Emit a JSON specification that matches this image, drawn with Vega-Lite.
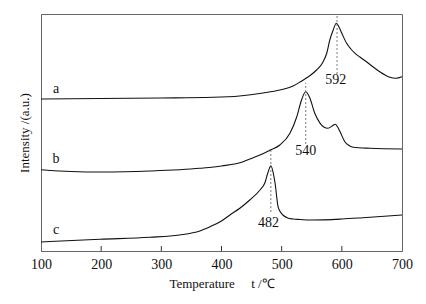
{
  "$schema": "https://vega.github.io/schema/vega-lite/v6.json",
  "autosize": "none",
  "width": 361,
  "height": 237,
  "padding": {"left": 41, "top": 14, "right": 24, "bottom": 53},
  "background": "white",
  "config": {
    "view": {"stroke": "#666", "strokeWidth": 1},
    "font": "Liberation Serif",
    "axis": {"grid": false, "labelFont": "Liberation Serif", "titleFont": "Liberation Serif", "titleFontWeight": "normal", "labelColor": "#111", "titleColor": "#111", "domainColor": "#666"}
  },
  "datasets": {
    "curves": [
      {"s": "a", "t": 100, "v": 152}, {"s": "a", "t": 200, "v": 152.5}, {"s": "a", "t": 300, "v": 153}, {"s": "a", "t": 386, "v": 153.7}, {"s": "a", "t": 430, "v": 155}, {"s": "a", "t": 469, "v": 158}, {"s": "a", "t": 497, "v": 161}, {"s": "a", "t": 519, "v": 165}, {"s": "a", "t": 532, "v": 169.5}, {"s": "a", "t": 545, "v": 174.5}, {"s": "a", "t": 558, "v": 181}, {"s": "a", "t": 569, "v": 189.3}, {"s": "a", "t": 575, "v": 198}, {"s": "a", "t": 580, "v": 211}, {"s": "a", "t": 585, "v": 220}, {"s": "a", "t": 591, "v": 227.7}, {"s": "a", "t": 596, "v": 223}, {"s": "a", "t": 600, "v": 217.7}, {"s": "a", "t": 608, "v": 207.7}, {"s": "a", "t": 615, "v": 202}, {"s": "a", "t": 622, "v": 197.7}, {"s": "a", "t": 630, "v": 194}, {"s": "a", "t": 641, "v": 189.3}, {"s": "a", "t": 650, "v": 185}, {"s": "a", "t": 663, "v": 179.3}, {"s": "a", "t": 672, "v": 176}, {"s": "a", "t": 680, "v": 173.7}, {"s": "a", "t": 690, "v": 172.8}, {"s": "a", "t": 700, "v": 174.3},
      {"s": "b", "t": 100, "v": 81.3}, {"s": "b", "t": 150, "v": 79.5}, {"s": "b", "t": 200, "v": 79}, {"s": "b", "t": 281, "v": 80}, {"s": "b", "t": 364, "v": 82.7}, {"s": "b", "t": 400, "v": 85}, {"s": "b", "t": 436, "v": 89.3}, {"s": "b", "t": 447, "v": 92}, {"s": "b", "t": 464, "v": 96}, {"s": "b", "t": 481, "v": 101}, {"s": "b", "t": 497, "v": 106}, {"s": "b", "t": 514, "v": 118}, {"s": "b", "t": 525, "v": 134}, {"s": "b", "t": 533, "v": 151}, {"s": "b", "t": 540, "v": 159.3}, {"s": "b", "t": 547, "v": 152.7}, {"s": "b", "t": 555, "v": 137.7}, {"s": "b", "t": 564, "v": 127.7}, {"s": "b", "t": 570, "v": 124}, {"s": "b", "t": 577, "v": 122.7}, {"s": "b", "t": 584, "v": 125}, {"s": "b", "t": 589, "v": 126.7}, {"s": "b", "t": 593, "v": 124}, {"s": "b", "t": 597, "v": 119.3}, {"s": "b", "t": 605, "v": 109.3}, {"s": "b", "t": 612, "v": 105.5}, {"s": "b", "t": 619, "v": 103.7}, {"s": "b", "t": 647, "v": 102.7}, {"s": "b", "t": 700, "v": 102},
      {"s": "c", "t": 100, "v": 9}, {"s": "c", "t": 198, "v": 11.7}, {"s": "c", "t": 281, "v": 13.7}, {"s": "c", "t": 330, "v": 16}, {"s": "c", "t": 364, "v": 20}, {"s": "c", "t": 381, "v": 24.3}, {"s": "c", "t": 400, "v": 30}, {"s": "c", "t": 414, "v": 36}, {"s": "c", "t": 431, "v": 43}, {"s": "c", "t": 447, "v": 51}, {"s": "c", "t": 464, "v": 61}, {"s": "c", "t": 472, "v": 68}, {"s": "c", "t": 477, "v": 78}, {"s": "c", "t": 482, "v": 85.3}, {"s": "c", "t": 486, "v": 78}, {"s": "c", "t": 489, "v": 68}, {"s": "c", "t": 494, "v": 44.3}, {"s": "c", "t": 498, "v": 39}, {"s": "c", "t": 502, "v": 36}, {"s": "c", "t": 510, "v": 33}, {"s": "c", "t": 519, "v": 32}, {"s": "c", "t": 530, "v": 31.5}, {"s": "c", "t": 552, "v": 31}, {"s": "c", "t": 600, "v": 32}, {"s": "c", "t": 635, "v": 33.3}, {"s": "c", "t": 700, "v": 36}
    ],
    "peaks": [
      {"t": 592, "y1": 177, "y2": 237, "label": "592", "lt": 590, "ly": 171},
      {"t": 540, "y1": 107, "y2": 168, "label": "540", "lt": 540, "ly": 100.5},
      {"t": 482, "y1": 39, "y2": 101, "label": "482", "lt": 478, "ly": 28.3}
    ],
    "names": [
      {"label": "a", "t": 125, "y": 162},
      {"label": "b", "t": 125, "y": 92},
      {"label": "c", "t": 125, "y": 21}
    ],
    "ticks": [{"t": 200}, {"t": 300}, {"t": 400}, {"t": 500}, {"t": 600}]
  },
  "layer": [
    {
      "data": {"name": "curves"},
      "mark": {"type": "line", "interpolate": "monotone", "color": "#111", "strokeWidth": 1.1},
      "encoding": {
        "x": {"field": "t", "type": "quantitative", "scale": {"domain": [100, 700], "nice": false},
          "axis": {"values": [100, 200, 300, 400, 500, 600, 700], "ticks": false, "labelPadding": 6, "labelFlush": false, "labelFontSize": 14, "title": "Temperature\u00a0\u00a0\u00a0\u00a0\u00a0t\u00a0/℃", "titleFontSize": 13, "titlePadding": 6}},
        "y": {"field": "v", "type": "quantitative", "scale": {"domain": [0, 237], "nice": false, "zero": false},
          "axis": {"ticks": false, "labels": false, "title": "Intensity /(a.u.)", "titleFontSize": 13, "titlePadding": 10}},
        "detail": {"field": "s"}
      }
    },
    {
      "data": {"name": "ticks"},
      "mark": {"type": "rule", "color": "#333", "strokeWidth": 1},
      "encoding": {
        "x": {"field": "t", "type": "quantitative"},
        "y": {"datum": 0},
        "y2": {"datum": 5}
      }
    },
    {
      "data": {"name": "peaks"},
      "mark": {"type": "rule", "color": "#555", "strokeDash": [2, 2], "strokeWidth": 0.8},
      "encoding": {
        "x": {"field": "t", "type": "quantitative"},
        "y": {"field": "y1", "type": "quantitative"},
        "y2": {"field": "y2"}
      }
    },
    {
      "data": {"name": "peaks"},
      "mark": {"type": "text", "font": "Liberation Serif", "fontSize": 14, "color": "#111", "baseline": "middle", "align": "center"},
      "encoding": {
        "x": {"field": "lt", "type": "quantitative"},
        "y": {"field": "ly", "type": "quantitative"},
        "text": {"field": "label"}
      }
    },
    {
      "data": {"name": "names"},
      "mark": {"type": "text", "font": "Liberation Serif", "fontSize": 14, "color": "#111", "baseline": "middle", "align": "center"},
      "encoding": {
        "x": {"field": "t", "type": "quantitative"},
        "y": {"field": "y", "type": "quantitative"},
        "text": {"field": "label"}
      }
    }
  ]
}
